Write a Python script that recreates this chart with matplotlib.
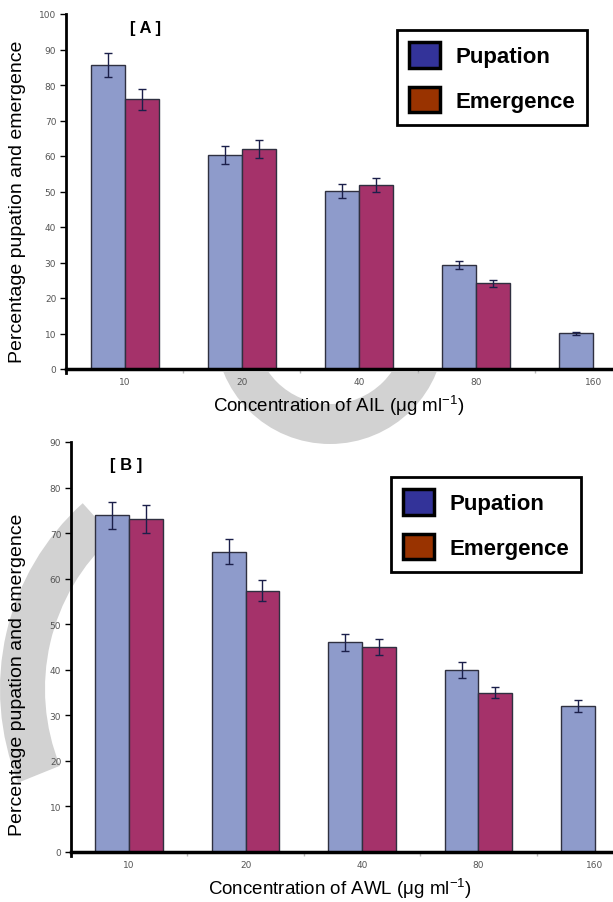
import numpy as np
import matplotlib
matplotlib.use("Agg")
import matplotlib.pyplot as plt
from matplotlib.patches import Patch, Wedge, Rectangle

# ---------------- data ----------------
categories = ["10", "20", "40", "80", "160"]

pupation_A = [85.6, 60.3, 50.1, 29.3, 10.1]
pupation_A_err = [3.3, 2.5, 2.0, 1.1, 0.4]
emergence_A = [76.0, 62.0, 51.9, 24.2, np.nan]
emergence_A_err = [3.0, 2.5, 2.0, 1.0, np.nan]

pupation_B = [73.9, 65.9, 46.0, 39.9, 32.0]
pupation_B_err = [3.0, 2.7, 1.9, 1.7, 1.3]
emergence_B = [73.1, 57.4, 45.0, 35.0, np.nan]
emergence_B_err = [3.0, 2.3, 1.8, 1.3, np.nan]

legend_labels = ["Pupation", "Emergence"]
ylabel = "Percentage pupation and emergence"
xlabel_A = "Concentration of AIL (\u03bcg ml$^{\\mathregular{-1}}$)"
xlabel_B = "Concentration of AWL (\u03bcg ml$^{\\mathregular{-1}}$)"

# ---------------- style ----------------
W, H = 613, 903
BAR_BLUE = "#8E9BCB"
BAR_RED = "#A5326A"
LEG_BLUE = "#333399"
LEG_RED = "#993300"
SANS = ["Liberation Sans", "DejaVu Sans"]

fig = plt.figure(figsize=(W / 100, H / 100), dpi=100)
fig.patch.set_facecolor("white")


def fx(px):
    return px / W


def fy(py):
    return 1 - py / H


# watermark overlay
ov = fig.add_axes([0, 0, 1, 1], zorder=0)
ov.set_xlim(0, W)
ov.set_ylim(H, 0)
ov.axis("off")
u = Wedge((330, 330), 115, 0, 180, width=40, facecolor="#d2d2d2", edgecolor="none")
ov.add_patch(u)
u.set_clip_path(Rectangle((0, 373), W, 200, transform=ov.transData))
ov.add_patch(Wedge((250, 690), 250, 158, 228, width=45, facecolor="#d2d2d2", edgecolor="none"))


def panel(rect, pup, pup_err, emg, emg_err, ymax, xlabel, tag, tag_xy, xlab_xy, ylab_xy, leg_xy):
    ax = fig.add_axes(rect, zorder=1)
    ax.patch.set_alpha(0)
    x = np.arange(len(categories))
    w = 0.29
    ekw = dict(ecolor="#1b1f4a", elinewidth=1.0, capsize=3, capthick=1.0)
    ax.bar(x - w / 2, pup, w, yerr=pup_err, color=BAR_BLUE, edgecolor="#2f3040",
           linewidth=1.0, error_kw=ekw, zorder=2)
    ax.bar(x + w / 2, emg, w, yerr=emg_err, color=BAR_RED, edgecolor="#2f3040",
           linewidth=1.0, error_kw=ekw, zorder=2)
    ax.set_xlim(-0.5, 4.5)
    ax.set_ylim(0, ymax)
    for s in ["top", "right"]:
        ax.spines[s].set_visible(False)
    ax.spines["left"].set_linewidth(2.0)
    ax.spines["bottom"].set_linewidth(2.5)
    ax.spines["left"].set_bounds(-1.0 * ymax / 100, ymax)
    ax.set_yticks(np.arange(0, ymax + 1, 10))
    ax.tick_params(axis="y", direction="out", length=4, width=1, color="black",
                   labelsize=6.5, labelcolor="#555555", pad=3)
    ax.set_xticks(np.arange(0.5, 4.5, 1))
    ax.set_xticklabels([])
    ax.tick_params(axis="x", which="major", direction="out", length=3, width=1, color="#bbbbbb")
    ax.set_xticks(x, minor=True)
    ax.set_xticklabels(categories, minor=True)
    ax.tick_params(axis="x", which="minor", length=0, labelsize=6.5, labelcolor="#555555", pad=6)
    for t in ax.get_yticklabels() + ax.get_xticklabels(minor=True):
        t.set_fontfamily("DejaVu Sans")

    fig.text(fx(tag_xy[0]), fy(tag_xy[1]), tag, ha="center", va="center",
             fontsize=12, fontweight="bold", family=SANS)
    fig.text(fx(xlab_xy[0]), fy(xlab_xy[1]), xlabel, ha="center", va="center",
             fontsize=13.5, family=SANS)
    fig.text(fx(ylab_xy[0]), fy(ylab_xy[1]), ylabel, ha="center", va="center",
             rotation=90, fontsize=14, family=SANS)

    handles = [Patch(facecolor=LEG_BLUE, edgecolor="black", linewidth=2.5, label=legend_labels[0]),
               Patch(facecolor=LEG_RED, edgecolor="black", linewidth=2.5, label=legend_labels[1])]
    leg = fig.legend(handles=handles, loc="upper left",
                     bbox_to_anchor=(fx(leg_xy[0]), fy(leg_xy[1])),
                     bbox_transform=fig.transFigure,
                     prop={"family": SANS, "weight": "bold", "size": 16},
                     frameon=True, fancybox=False, edgecolor="black", framealpha=1,
                     handlelength=1.4, handleheight=1.4, handletextpad=0.68,
                     labelspacing=0.85, borderpad=0.55, borderaxespad=0)
    leg.get_frame().set_linewidth(2.0)
    leg.set_zorder(5)
    return ax


# Panel A: spine x=66, axis y=370, y=100 at 15, x from -0.5 (66) to 4.5 (652)
panel([fx(66), fy(370), (652 - 66) / W, (370 - 15) / H],
      pupation_A, pupation_A_err, emergence_A, emergence_A_err, 100,
      xlabel_A, "[ A ]", (146, 29), (339, 406), (18, 202), (397, 31))

# Panel B: spine x=71, axis y=853, y=90 at 443
panel([fx(71), fy(853), (653 - 71) / W, (853 - 443) / H],
      pupation_B, pupation_B_err, emergence_B, emergence_B_err, 90,
      xlabel_B, "[ B ]", (126, 466), (340, 889), (18, 675), (391, 478))

fig.savefig("out.png", dpi=100, facecolor="white")
